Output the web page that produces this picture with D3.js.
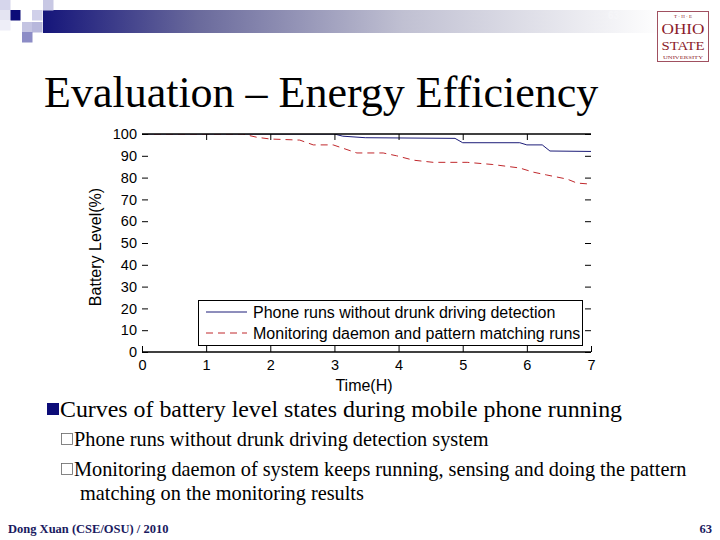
<!DOCTYPE html>
<html><head><meta charset="utf-8">
<script src="https://cdn.jsdelivr.net/npm/d3@7"></script>
<style>body{margin:0;background:#fff}svg{display:block}</style>
</head><body>
<svg id="s" width="720" height="540"></svg>
<script>
const xTicks = [0,1,2,3,4,5,6,7];
const yTicks = [0,10,20,30,40,50,60,70,80,90,100];
const seriesNames = ["Phone runs without drunk driving detection","Monitoring daemon and pattern matching runs"];
const phoneX = [0,3.0,3.13,3.48,4.88,5.0,5.89,6.0,6.24,6.36,7];
const phoneY = [100,100,99,98.3,98,96,96,95,95,92.2,92];
const monX = [0,1.57,1.79,2.0,2.46,2.67,2.98,3.35,3.76,3.97,4.23,4.54,5.07,5.47,5.89,6.1,6.31,6.63,6.78,7];
const monY = [100,100,98.5,97.7,97.2,95,95,91.3,91.3,90,88,87,87,86,84.4,82.5,81.2,79.3,77.5,77];

const svg = d3.select("#s");
// header decoration
const defs = svg.append("defs");
const g1 = defs.append("linearGradient").attr("id","hg");
[[0,"#15157a"],[0.25,"#6a6a9c"],[0.58,"#c0c0d2"],[0.9,"#f0f0f4"],[1,"#ffffff"]].forEach(s=>
  g1.append("stop").attr("offset",s[0]).attr("stop-color",s[1]));
svg.append("rect").attr("x",43).attr("y",10).attr("width",620).attr("height",23).attr("fill","url(#hg)");
const sq = [[0,0,"#d6d6ec"],[10,10,"#0c0c78"],[32,10,"#d0d0ea"],[43,0,"#c8c8e4"],[22,22,"#c4c4e2"],[32,22,"#b8b8dc"],[22,32,"#8c8cc6"],[0,10,"#e4e4f2"],[0,20,"#eeeef8"]];
svg.selectAll("rect.sq").data(sq).join("rect").attr("class","sq")
  .attr("x",d=>d[0]).attr("y",d=>d[1]).attr("width",10.5).attr("height",10.5).attr("fill",d=>d[2]);
svg.append("text").attr("x",608).attr("y",19).attr("font-family","Liberation Sans").attr("font-size",10).attr("font-weight","bold").attr("fill","#f6f6f9").text("63");
// OSU logo
const lg = svg.append("g").attr("transform","translate(657,11)").attr("font-family","Liberation Serif").attr("fill","#8b1a2a").attr("text-anchor","middle");
lg.append("rect").attr("x",0.5).attr("y",0.5).attr("width",51).attr("height",50).attr("fill","#fff").attr("stroke","#a05060").attr("stroke-width",1);
lg.append("text").attr("x",26).attr("y",6.5).attr("font-size",5).text("T  ·  H  ·  E");
lg.append("text").attr("x",26).attr("y",22.5).attr("font-size",15).attr("textLength",43).attr("lengthAdjust","spacingAndGlyphs").text("OHIO");
lg.append("text").attr("x",26).attr("y",38.5).attr("font-size",13.5).attr("textLength",43).attr("lengthAdjust","spacingAndGlyphs").text("STATE");
lg.append("text").attr("x",26).attr("y",47.5).attr("font-size",5).attr("textLength",40).attr("lengthAdjust","spacingAndGlyphs").text("UNIVERSITY");

// title
svg.append("text").attr("x",44).attr("y",107).attr("font-family","Liberation Serif").attr("font-size",44).attr("fill","#000").text("Evaluation – Energy Efficiency");

// chart
const L=142,R=591,T=134,B=352;
const x = d3.scaleLinear().domain([0,7]).range([L,R]);
const y = d3.scaleLinear().domain([0,100]).range([B,T]);
const cg = svg.append("g").attr("font-family","Liberation Sans, Arial").attr("font-size",14.5);

const line = d3.line().x(d=>x(d[0])).y(d=>y(d[1]));
const clip = defs.append("clipPath").attr("id","pc");
clip.append("rect").attr("x",L).attr("y",T).attr("width",R-L).attr("height",B-T);
cg.append("path").datum(phoneX.map((v,i)=>[v,phoneY[i]])).attr("d",line).attr("fill","none").attr("stroke","#1c1c78").attr("stroke-width",1).attr("clip-path","url(#pc)");
cg.append("path").datum(monX.map((v,i)=>[v,monY[i]])).attr("d",line).attr("fill","none").attr("stroke","#c0282c").attr("stroke-width",1).attr("stroke-dasharray","7,5").attr("clip-path","url(#pc)");

cg.append("line").attr("x1",L).attr("x2",R).attr("y1",T).attr("y2",T).attr("stroke","#000").attr("stroke-width",1.3);
cg.append("line").attr("x1",L).attr("x2",R).attr("y1",B).attr("y2",B).attr("stroke","#000").attr("stroke-width",1.3);
const bx = cg.append("g").attr("transform",`translate(0,${B})`).call(d3.axisBottom(x).tickValues(xTicks).tickSize(-6).tickPadding(8).tickFormat(d3.format("d")));
const tx = cg.append("g").attr("transform",`translate(0,${T})`).call(d3.axisTop(x).tickValues(xTicks.slice(1,-1)).tickSize(-6).tickFormat(""));
const ly = cg.append("g").attr("transform",`translate(${L},0)`).call(d3.axisLeft(y).tickValues(yTicks).tickSize(-6).tickPadding(5).tickFormat(d3.format("d")));
const ry = cg.append("g").attr("transform",`translate(${R},0)`).call(d3.axisRight(y).tickValues(yTicks).tickSize(-6).tickFormat(""));
[bx,tx,ly,ry].forEach(a=>{a.select(".domain").remove();a.selectAll("text").attr("font-family","Liberation Sans, Arial").attr("font-size",14.5).attr("fill","#000");});
cg.append("text").attr("x",364).attr("y",391).attr("text-anchor","middle").attr("font-size",16).text("Time(H)");
cg.append("text").attr("transform","translate(101,247) rotate(-90)").attr("text-anchor","middle").attr("font-size",16).text("Battery Level(%)");

// legend
const lgd = cg.append("g");
lgd.append("rect").attr("x",198.5).attr("y",300.5).attr("width",384).attr("height",45).attr("fill","#fff").attr("stroke","#000");
lgd.append("line").attr("x1",206).attr("x2",247).attr("y1",312).attr("y2",312).attr("stroke","#1c1c78");
lgd.append("line").attr("x1",206).attr("x2",247).attr("y1",333).attr("y2",333).attr("stroke","#c0282c").attr("stroke-dasharray","7,5");
lgd.append("text").attr("x",253).attr("y",318).attr("font-size",16).text(seriesNames[0]);
lgd.append("text").attr("x",253).attr("y",339).attr("font-size",16).text(seriesNames[1]);

// bullets
const tg = svg.append("g").attr("font-family","Liberation Serif").attr("fill","#000");
tg.append("rect").attr("x",47).attr("y",403).attr("width",12).attr("height",12).attr("fill","#0c0c78");
tg.append("text").attr("x",60).attr("y",417).attr("font-size",24).attr("textLength",562).attr("lengthAdjust","spacingAndGlyphs").text("Curves of battery level states during mobile phone running");
[[446,"Phone runs without drunk driving detection system"],[476,"Monitoring daemon of system keeps running, sensing and doing the pattern"]].forEach(d=>{
  tg.append("rect").attr("x",61.5).attr("y",d[0]-12.5).attr("width",11).attr("height",11).attr("fill","none").attr("stroke","#666").attr("stroke-width",0.8);
  tg.append("text").attr("x",74).attr("y",d[0]).attr("font-size",20.3).text(d[1]);
});
tg.append("text").attr("x",80).attr("y",500).attr("font-size",20.3).text("matching on the monitoring results");
tg.append("text").attr("x",8).attr("y",533).attr("font-size",12.5).attr("font-weight","bold").attr("fill","#1a1a60").text("Dong Xuan (CSE/OSU) / 2010");
tg.append("text").attr("x",712).attr("y",533).attr("text-anchor","end").attr("font-size",12.5).attr("font-weight","bold").attr("fill","#1a1a60").text("63");
</script>
</body></html>
